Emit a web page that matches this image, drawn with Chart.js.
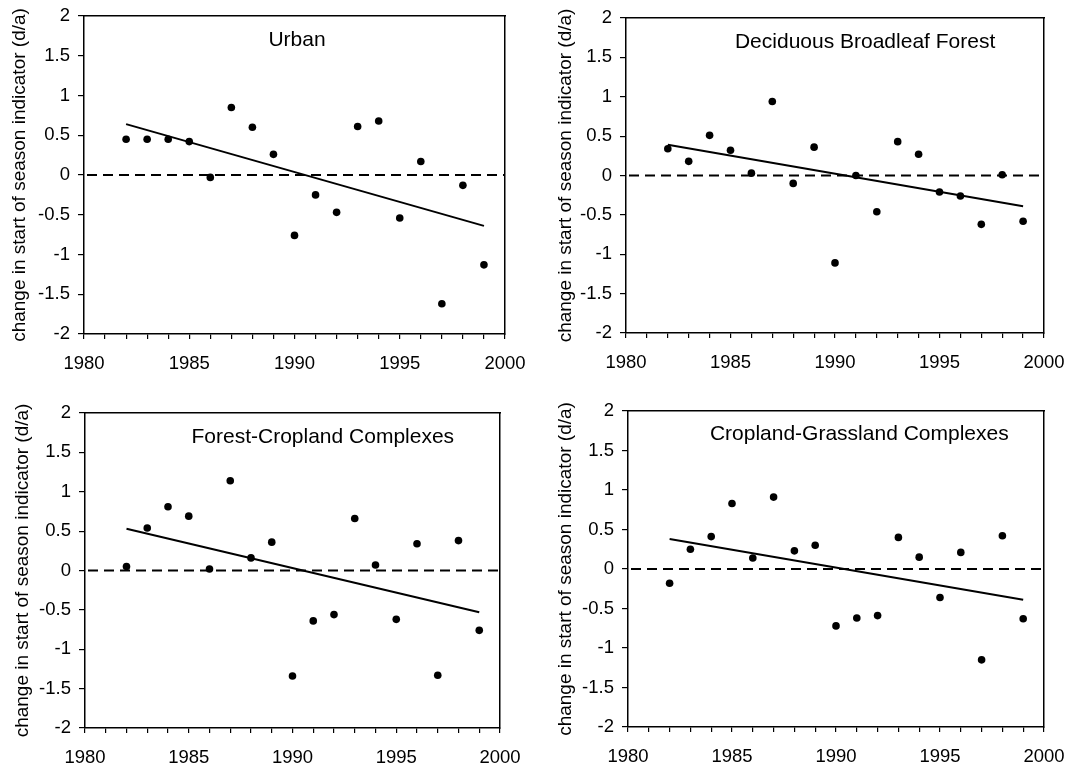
<!DOCTYPE html>
<html>
<head>
<meta charset="utf-8">
<script src="https://cdn.jsdelivr.net/npm/chart.js@4.4.1/dist/chart.umd.min.js"></script>
<style>
  html, body { margin: 0; padding: 0; background: #fff; }
  #wrap { position: relative; width: 1071px; height: 770px; overflow: hidden; }
  #wrap canvas { position: absolute; }
</style>
</head>
<body>
<div id="wrap">
  <canvas id="c0" width="535" height="385" style="left:0;top:0"></canvas>
  <canvas id="c1" width="536" height="385" style="left:535px;top:0"></canvas>
  <canvas id="c2" width="535" height="385" style="left:0;top:385px"></canvas>
  <canvas id="c3" width="536" height="385" style="left:535px;top:385px"></canvas>
</div>
<script>
// Years of observation
const years = [1982, 1983, 1984, 1985, 1986, 1987, 1988, 1989, 1990,
               1991, 1992, 1993, 1994, 1995, 1996, 1997, 1998, 1999];

// Change in start of season indicator (d/a) per land cover class
const urban      = [0.45, 0.45, 0.45, 0.42, -0.03, 0.85, 0.60, 0.26, -0.76,
                    -0.25, -0.47, 0.61, 0.68, -0.54, 0.17, -1.62, -0.13, -1.13];
const deciduous  = [0.34, 0.18, 0.51, 0.32, 0.03, 0.94, -0.10, 0.36, -1.11,
                    0.00, -0.46, 0.43, 0.27, -0.21, -0.26, -0.62, 0.01, -0.58];
const forestCrop = [0.05, 0.54, 0.81, 0.69, 0.02, 1.14, 0.16, 0.36, -1.34,
                    -0.64, -0.56, 0.66, 0.07, -0.62, 0.34, -1.33, 0.38, -0.76];
const cropGrass  = [-0.18, 0.25, 0.41, 0.83, 0.14, 0.91, 0.23, 0.30, -0.72,
                    -0.62, -0.59, 0.40, 0.15, -0.36, 0.21, -1.15, 0.42, -0.63];

// Linear trend end points (first and last year)
const trendYears      = [1982, 1999];
const urbanTrend      = [0.64, -0.64];
const deciduousTrend  = [0.39, -0.39];
const forestCropTrend = [0.53, -0.53];
const cropGrassTrend  = [0.38, -0.39];

// Reference line and axis ticks
const zeroLineYears = [1980, 2000];
const zeroLine      = [0, 0];
const xTickLabels   = [1980, 1985, 1990, 1995, 2000];
const yTickValues   = [-2, -1.5, -1, -0.5, 0, 0.5, 1, 1.5, 2];

const panelNames = ['Urban', 'Deciduous Broadleaf Forest',
                    'Forest-Cropland Complexes', 'Cropland-Grassland Complexes'];
const yAxisTitle = 'change in start of season indicator (d/a)';

const FONT = '"Liberation Sans", Arial, Helvetica, sans-serif';

function pairs(xs, ys) { return xs.map((x, i) => ({ x: x, y: ys[i] })); }

// Panel label drawn inside the plot frame
const panelTitle = {
  id: 'panelTitle',
  afterDatasetsDraw(chart, args, opts) {
    const a = chart.chartArea, ctx = chart.ctx;
    ctx.save();
    ctx.font = opts.size + 'px ' + FONT;
    ctx.fillStyle = '#000';
    ctx.textAlign = 'center';
    ctx.textBaseline = 'middle';
    ctx.fillText(opts.text, a.left + opts.fx * (a.right - a.left),
                 a.top + opts.fy * (a.bottom - a.top));
    ctx.restore();
  }
};

// Frame margins (left, right, top, bottom) and label placement per panel
const layouts = [
  { L: 84, R: 30, T: 16, B: 51, titlePad: 8,  fx: 0.506, fy: 0.075 },
  { L: 91, R: 27, T: 18, B: 52, titlePad: 19, fx: 0.572, fy: 0.076 },
  { L: 85, R: 35, T: 28, B: 42, titlePad: 11, fx: 0.573, fy: 0.076 },
  { L: 93, R: 27, T: 26, B: 43, titlePad: 19, fx: 0.556, fy: 0.073 }
];

const series = [urban, deciduous, forestCrop, cropGrass];
const trends = [urbanTrend, deciduousTrend, forestCropTrend, cropGrassTrend];

const axisColor = '#000';

// Fixed axis box sizes; label overhang must not shrink the frame
function fixBox(s, key, size) {
  s[key] = size;
  s.paddingLeft = 0; s.paddingRight = 0;
  s.paddingTop = 0; s.paddingBottom = 0;
}

series.forEach((vals, i) => {
  const lay = layouts[i];
  new Chart(document.getElementById('c' + i), {
    type: 'scatter',
    data: {
      datasets: [
        {
          data: pairs(years, vals),
          pointRadius: 3.8,
          pointBackgroundColor: '#000',
          pointBorderWidth: 0,
          showLine: false,
          order: 0
        },
        {
          data: pairs(trendYears, trends[i]),
          showLine: true,
          borderColor: '#000',
          borderWidth: 2,
          pointRadius: 0,
          order: 1
        },
        {
          data: pairs(zeroLineYears, zeroLine),
          showLine: true,
          borderColor: '#000',
          borderWidth: 2,
          borderDash: [10, 6],
          borderDashOffset: -3,
          pointRadius: 0,
          order: 2
        }
      ]
    },
    options: {
      responsive: false,
      animation: false,
      layout: { padding: 0 },
      plugins: {
        legend: { display: false },
        tooltip: { enabled: false },
        panelTitle: { text: panelNames[i], size: 21, fx: lay.fx, fy: lay.fy }
      },
      scales: {
        x: {
          type: 'linear',
          position: 'bottom',
          min: 1980, max: 2000,
          ticks: {
            stepSize: 1,
            autoSkip: false,
            maxRotation: 0,
            padding: 14,
            color: '#000',
            font: { family: FONT, size: 18.5 },
            callback: v => xTickLabels.includes(v) ? String(v) : ''
          },
          grid: { display: true, drawOnChartArea: false, drawTicks: true,
                  tickLength: 5, color: axisColor, lineWidth: 1.2 },
          border: { display: true, color: axisColor, width: 1.5 },
          afterFit: s => fixBox(s, 'height', lay.B)
        },
        y: {
          type: 'linear',
          position: 'left',
          min: -2, max: 2,
          afterBuildTicks: s => { s.ticks = yTickValues.map(v => ({ value: v })); },
          ticks: {
            padding: 8,
            color: '#000',
            font: { family: FONT, size: 18.5 },
            callback: v => String(v)
          },
          grid: { display: true, drawOnChartArea: false, drawTicks: true,
                  tickLength: 6, color: axisColor, lineWidth: 1.2 },
          border: { display: true, color: axisColor, width: 1.5 },
          title: {
            display: true,
            text: yAxisTitle,
            color: '#000',
            font: { family: FONT, size: 19 },
            padding: { top: lay.titlePad, bottom: 0 }
          },
          afterFit: s => fixBox(s, 'width', lay.L)
        },
        xTop: {
          type: 'linear',
          position: 'top',
          min: 1980, max: 2000,
          ticks: { display: false },
          grid: { display: false, drawTicks: false },
          border: { display: true, color: axisColor, width: 1.5 },
          afterFit: s => fixBox(s, 'height', lay.T)
        },
        yRight: {
          type: 'linear',
          position: 'right',
          min: -2, max: 2,
          ticks: { display: false },
          grid: { display: false, drawTicks: false },
          border: { display: true, color: axisColor, width: 1.5 },
          afterFit: s => fixBox(s, 'width', lay.R)
        }
      }
    },
    plugins: [panelTitle]
  });
});
</script>
</body>
</html>
